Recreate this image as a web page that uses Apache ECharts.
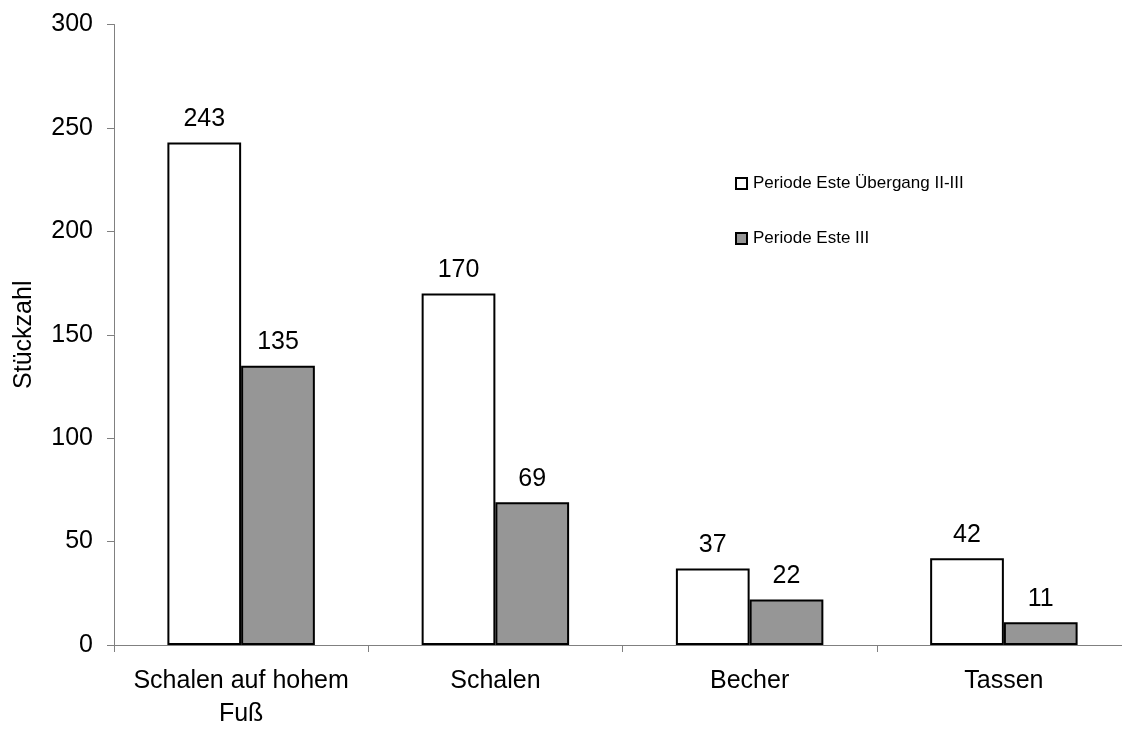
<!DOCTYPE html>
<html><head><meta charset="utf-8">
<script src="https://cdn.jsdelivr.net/npm/echarts@6/dist/echarts.min.js"></script>
<style>html,body{margin:0;padding:0;background:#fff;overflow:hidden;width:1122px;height:729px}#c{width:1140px;height:729px}</style>
</head><body><div id="c"></div>
<script>
const categories = ['Schalen auf hohem\nFuß', 'Schalen', 'Becher', 'Tassen'];
const seriesNames = ['Periode Este Übergang II-III', 'Periode Este III'];
const valuesA = [243, 170, 37, 42];
const valuesB = [135, 69, 22, 11];
const yTicks = [0, 50, 100, 150, 200, 250, 300];

const chart = echarts.init(document.getElementById('c'));
const font = 'Liberation Sans, Arial, sans-serif';
chart.setOption({
  animation: false,
  backgroundColor: '#fff',
  grid: { left: 114, top: 24.5, right: 9, bottom: 84, containLabel: false, outerBoundsMode: 'none' },
  legend: {
    orient: 'vertical', left: 730, top: 170, itemGap: 38,
    itemWidth: 11, itemHeight: 11, icon: 'rect',
    textStyle: { fontFamily: font, fontSize: 17, color: '#000', padding: [0,0,0,1] },
    data: seriesNames
  },
  xAxis: {
    type: 'category', data: categories,
    axisLine: { lineStyle: { color: '#808080', width: 1 } },
    axisTick: { show: true, length: 7, lineStyle: { color: '#808080' } },
    axisLabel: { fontFamily: font, fontSize: 25, color: '#000', margin: 20, lineHeight: 33, interval: 0 }
  },
  yAxis: {
    type: 'value', min: 0, max: 300, interval: 50,
    name: 'Stückzahl', nameLocation: 'middle', nameGap: 77, nameRotate: 90,
    nameTextStyle: { fontFamily: font, fontSize: 25, color: '#000' },
    axisLine: { show: true, lineStyle: { color: '#808080', width: 1 } },
    axisTick: { show: true, length: 7, lineStyle: { color: '#808080' } },
    axisLabel: { fontFamily: font, fontSize: 25, color: '#000', margin: 21,
      formatter: v => yTicks.includes(v) ? String(v) : '' },
    splitLine: { show: false }
  },
  series: [
    { name: seriesNames[0], type: 'bar', data: valuesA, barGap: '0%', barCategoryGap: '42%',
      itemStyle: { color: '#ffffff', borderColor: '#000', borderWidth: 2 },
      label: { show: true, position: 'top', distance: 11, fontFamily: font, fontSize: 25, color: '#000' } },
    { name: seriesNames[1], type: 'bar', data: valuesB, barGap: '0%', barCategoryGap: '42%',
      itemStyle: { color: '#969696', borderColor: '#000', borderWidth: 2 },
      label: { show: true, position: 'top', distance: 11, fontFamily: font, fontSize: 25, color: '#000' } }
  ]
});
</script></body></html>
